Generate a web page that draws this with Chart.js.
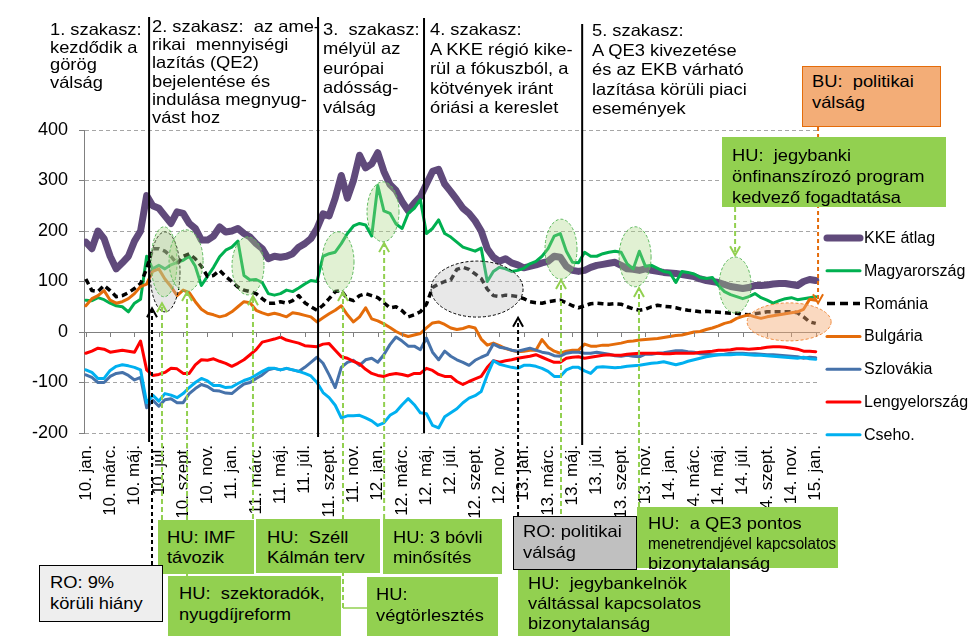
<!DOCTYPE html>
<html><head><meta charset="utf-8">
<script src="https://cdn.jsdelivr.net/npm/chart.js@4.4.0/dist/chart.umd.min.js"></script>
<style>
html,body{margin:0;padding:0;background:#fff;}
#wrap{position:relative;width:975px;height:636px;overflow:hidden;font-family:'Liberation Sans',Arial,sans-serif;color:#000;}
#c{position:absolute;left:0;top:0;}
.t{position:absolute;white-space:pre;font-size:16.5px;transform:scaleX(1.11);transform-origin:0 0;}
.box{position:absolute;box-sizing:border-box;}
.g{background:#92D050;}
.lg{position:absolute;left:864px;font-size:16px;line-height:20px;white-space:pre;}
</style></head>
<body><div id="wrap">
<canvas id="c" width="975" height="636"></canvas>

<div class="t" style="left:50px;top:21px;line-height:17.7px">1. szakasz:
kezdődik a
görög
válság</div>
<div class="t" style="left:152px;top:17px;line-height:18.2px">2. szakasz:  az ame-
rikai  mennyiségi
lazítás (QE2)
bejelentése és
indulása megnyug-
vást hoz</div>
<div class="t" style="left:323px;top:19.5px;line-height:19.5px">3.  szakasz:
mélyül az
európai
adósság-
válság</div>
<div class="t" style="left:430px;top:20px;line-height:19.5px">4. szakasz:
A KKE régió kike-
rül a fókuszból, a
kötvények iránt
óriási a kereslet</div>
<div class="t" style="left:592px;top:21px;line-height:19.5px">5. szakasz:
A QE3 kivezetése
és az EKB várható
lazítása körüli piaci
események</div>

<div class="box" style="left:802px;top:66px;width:139px;height:61px;background:#F3AD77;border:1px solid #E46C0A"></div>
<div class="t" style="left:812px;top:71px;line-height:21px">BU:  politikai
válság</div>
<div class="box g" style="left:722px;top:137px;width:224px;height:70px"></div>
<div class="t" style="left:732px;top:145px;line-height:21px">HU:  jegybanki
önfinanszírozó program
kedvező fogadtatása</div>

<div class="box g" style="left:158px;top:520px;width:96px;height:54px"></div>
<div class="t" style="left:167px;top:527px;line-height:20px">HU: IMF
távozik</div>
<div class="box g" style="left:256px;top:519px;width:124px;height:54px"></div>
<div class="t" style="left:267px;top:527px;line-height:20px">HU:  Széll
Kálmán terv</div>
<div class="box g" style="left:383px;top:519px;width:119px;height:55px"></div>
<div class="t" style="left:393px;top:527px;line-height:20px">HU: 3 bóvli
minősítés</div>
<div class="box" style="left:39px;top:565px;width:124px;height:57px;background:#EEEEEE;border:1px solid #000"></div>
<div class="t" style="left:50px;top:572px;line-height:21px">RO: 9%
körüli hiány</div>
<div class="box g" style="left:168px;top:576px;width:173px;height:60px"></div>
<div class="t" style="left:179px;top:583px;line-height:21px">HU:  szektoradók,
nyugdíjreform</div>
<div class="box g" style="left:367px;top:577px;width:131px;height:59px"></div>
<div class="t" style="left:376px;top:584px;line-height:21px">HU:
végtörlesztés</div>
<div class="box" style="left:513px;top:516px;width:124px;height:54px;background:#C0C0C0;border:1px solid #000"></div>
<div class="t" style="left:523px;top:521px;line-height:21px">RO: politikai
válság</div>
<div class="box g" style="left:518px;top:570px;width:212px;height:66px"></div>
<div class="t" style="left:528px;top:573px;line-height:20px">HU:  jegybankelnök
váltással kapcsolatos
bizonytalanság</div>
<div class="box g" style="left:637px;top:507px;width:201px;height:61px"></div>
<div class="t" style="left:648px;top:513px;line-height:20px">HU:  a QE3 pontos</div>
<div class="t" style="left:648px;top:533px;line-height:20px;transform:scaleX(0.92)">menetrendjével kapcsolatos</div>
<div class="t" style="left:648px;top:553px;line-height:20px">bizonytalanság</div>
<div id="legend"></div>
</div>
<script>
// ---- Data (half-month steps from Jan 2010 to Jan 2015) ----
const seriesNames = ['KKE átlag','Magyarország','Románia','Bulgária','Szlovákia','Lengyelország','Cseho.'];

const kke = [178,165,200,185,150,125,137,150,180,200,270,250,245,230,215,238,235,215,205,182,182,190,208,198,
 200,205,195,188,175,165,145,150,148,150,155,168,175,185,205,234,230,265,310,265,300,350,325,333,
 355,318,292,280,258,240,255,268,293,318,322,293,278,262,245,235,220,200,165,148,140,145,137,133,
 127,130,133,137,140,150,148,130,122,120,122,128,132,134,136,138,132,125,124,122,125,122,120,118,
 117,116,114,112,110,105,102,100,98,94,90,88,86,88,92,92,93,95,96,96,94,92,100,104,
 102];
const hu = [63,62,68,64,57,52,50,40,57,65,150,125,132,125,133,138,142,150,130,92,110,128,149,162,
 168,180,112,103,104,98,76,73,76,83,80,87,95,102,100,150,155,158,175,195,210,215,212,190,
 290,240,235,214,205,235,245,262,195,205,222,195,188,178,168,164,160,166,100,120,128,125,120,122,
 126,135,140,150,165,190,195,160,138,137,158,150,150,155,158,160,158,135,125,160,130,132,126,120,
 118,98,120,118,115,108,106,108,92,80,74,70,66,70,76,68,63,57,62,66,68,64,66,68,
 70];
const ro = [105,82,80,92,82,70,72,78,86,96,125,165,165,160,150,135,150,155,145,130,110,112,122,110,
 100,89,83,80,76,66,57,57,60,57,62,72,58,50,43,53,66,80,82,66,62,72,76,72,
 68,58,48,50,42,30,34,40,55,88,95,100,103,124,128,124,115,106,85,72,70,73,72,70,
 66,60,58,57,60,62,63,58,52,48,52,56,57,56,55,56,55,50,46,43,45,50,53,51,
 50,48,45,43,42,40,41,40,39,38,37,37,35,34,36,38,40,40,40,40,40,38,30,20,
 17];
const bg = [52,66,72,82,63,57,60,66,76,90,95,120,125,105,90,72,83,78,60,45,37,34,30,33,
 40,50,60,58,43,38,34,37,34,30,38,36,33,30,20,28,36,43,52,34,20,30,48,26,
 22,16,9,1,-5,-9,-6,-3,8,18,20,15,8,5,7,11,8,-14,-26,-22,-27,-33,-36,-39,
 -38,-36,-36,-15,-30,-38,-42,-38,-36,-36,-24,-28,-28,-26,-26,-24,-22,-19,-18,-16,-15,-14,-13,-11,
 -9,-7,-6,-3,0,1,5,8,12,17,20,27,31,34,30,27,30,32,34,36,38,40,45,65,
 63];
const sk = [-85,-90,-100,-100,-88,-82,-80,-86,-95,-90,-150,-135,-147,-134,-132,-140,-140,-122,-112,-104,-108,-116,-117,-121,
 -122,-112,-103,-100,-92,-85,-75,-72,-75,-72,-75,-78,-70,-60,-50,-62,-85,-110,-70,-60,-56,-66,-55,-52,
 -60,-45,-25,-10,-18,-28,-28,-35,-12,-40,-55,-38,-48,-55,-60,-66,-56,-50,-45,-24,-30,-32,-36,-38,
 -35,-32,-36,-40,-42,-47,-48,-42,-40,-40,-42,-42,-40,-42,-44,-47,-48,-46,-48,-49,-44,-44,-42,-41,
 -39,-37,-37,-39,-40,-43,-44,-45,-45,-44,-42,-42,-42,-43,-43,-44,-45,-45,-46,-47,-48,-49,-52,-50,
 -51];
const pl = [-42,-38,-32,-34,-40,-38,-36,-38,-40,-18,-75,-86,-84,-80,-72,-73,-82,-82,-65,-55,-56,-53,-58,-62,
 -68,-62,-55,-45,-35,-20,-17,-14,-10,-16,-19,-22,-27,-28,-29,-24,-23,-36,-49,-52,-58,-63,-74,-82,
 -86,-88,-84,-82,-84,-87,-82,-82,-72,-76,-84,-88,-88,-98,-104,-98,-93,-88,-70,-57,-60,-57,-55,-52,
 -50,-48,-45,-50,-55,-60,-60,-52,-50,-49,-52,-50,-48,-46,-45,-46,-46,-44,-43,-42,-42,-42,-42,-43,
 -43,-42,-42,-42,-42,-40,-39,-38,-36,-36,-35,-33,-33,-34,-33,-32,-30,-29,-29,-30,-32,-34,-38,-38,
 -39];
const cz = [-75,-80,-92,-92,-76,-68,-65,-67,-70,-75,-140,-125,-137,-122,-125,-130,-122,-110,-100,-92,-97,-106,-106,-110,
 -109,-102,-96,-92,-85,-78,-72,-72,-75,-72,-75,-78,-82,-87,-100,-120,-130,-145,-170,-166,-166,-165,-170,-176,
 -185,-180,-165,-158,-144,-132,-144,-160,-162,-185,-190,-168,-160,-152,-140,-131,-126,-118,-85,-57,-64,-67,-70,-72,
 -66,-66,-68,-72,-78,-88,-88,-75,-70,-70,-77,-82,-70,-69,-70,-71,-70,-68,-67,-66,-64,-62,-61,-59,
 -62,-65,-62,-58,-55,-52,-49,-47,-45,-45,-45,-44,-44,-45,-46,-46,-47,-48,-49,-50,-51,-52,-50,-53,
 -54];

const tickLabels = ['10. jan.','10. márc.','10. máj.','10. júl.','10. szept.','10. nov.',
 '11. jan.','11. márc.','11. máj.','11. júl.','11. szept.','11. nov.',
 '12. jan.','12. márc.','12. máj.','12. júl.','12. szept.','12. nov.',
 '13. jan.','13. márc.','13. máj.','13. júl.','13. szept.','13. nov.',
 '14. jan.','14. márc.','14. máj.','14. júl.','14. szept.','14. nov.','15. jan.'];

// ---- Styles ----
const seriesValues = [kke, hu, ro, bg, sk, pl, cz];
const colors = ['#604A7B','#00B050','#000000','#E46C0A','#4672AA','#FF0000','#00B0F0'];
const widths = [7,3,3.5,3,3,3,3];
const monthOf = i => i * 0.5;            // half-month sampling grid
const tickMonths = tickLabels.map((_, i) => i * 2);

// Annotation anchors (month, value) — layout of the event markers
const phaseStarts = [5.2, 19.09, 27.8, 40.8];
const phaseSpan = [[17,442],[17,437],[18,433],[24,445]];
const ellipses = [
  {m:6.51, v:119, rx:15, ry:40, k:'ro'},
  {m:6.43, v:139, rx:13, ry:35, k:'hu'},
  {m:8.24, v:141, rx:17, ry:31, k:'hu'},
  {m:13.33, v:131, rx:16, ry:29, k:'hu'},
  {m:20.73, v:139, rx:16, ry:30, k:'hu'},
  {m:24.43, v:238, rx:16, ry:30, k:'hu'},
  {m:32.16, v:85, rx:46, ry:28, k:'ro'},
  {m:39.06, v:164, rx:16, ry:30, k:'hu'},
  {m:45.15, v:149, rx:16, ry:30, k:'hu'},
  {m:53.37, v:93, rx:16, ry:28, k:'hu'},
  {m:57.81, v:20, rx:42, ry:19, k:'bu'}
];
const arrows = [
  {m:6.26, from:520, tip:57, k:'hu'},
  {m:8.32, from:576, tip:79, k:'hu'},
  {m:13.74, from:519, tip:71, k:'hu'},
  {m:21.14, from:608, tip:79, k:'hu', link:367},
  {m:24.52, from:519, tip:176, k:'hu'},
  {m:39.06, from:570, tip:103, k:'hu'},
  {m:45.47, from:507, tip:87, k:'hu'},
  {m:53.37, from:207, tip:152, k:'hu'},
  {m:5.44, from:565, tip:47, k:'ro'},
  {m:35.53, from:516, tip:28, k:'ro'},
  {m:60.19, from:127, tip:57, k:'bu'}
];

Chart.defaults.font.family = "'Liberation Sans', Arial, sans-serif";

const datasets = seriesValues.map((vals, i) => ({
  label: seriesNames[i],
  data: vals.map((v, j) => ({x: monthOf(j), y: v})),
  borderColor: colors[i],
  backgroundColor: colors[i],
  borderWidth: widths[i],
  borderDash: i === 2 ? [6,4] : [],
  borderCapStyle: i === 2 ? 'butt' : 'round',
  borderJoinStyle: 'round',
  pointRadius: 0,
  tension: 0,
  fill: false,
  order: seriesValues.length - i
}));

const overlay = {
  id: 'overlay',
  afterDraw(chart) {
    const {ctx, scales: {x, y}} = chart;
    const X = m => x.getPixelForValue(m);
    const Y = v => y.getPixelForValue(v);
    const y0 = Y(0);
    ctx.save();
    // tick marks on the zero line
    ctx.strokeStyle = '#808080'; ctx.lineWidth = 1; ctx.setLineDash([]);
    x.ticks.forEach(t => {
      const px = Math.round(X(t.value)) + 0.5;
      ctx.beginPath(); ctx.moveTo(px, y0); ctx.lineTo(px, y0 + 5); ctx.stroke();
    });
    // ellipses
    const eStyle = {
      hu: {fill:'rgba(170,215,130,0.35)', stroke:'#5CB85C'},
      ro: {fill:'rgba(190,190,190,0.35)', stroke:'#000000'},
      bu: {fill:'rgba(245,170,115,0.45)', stroke:'#F08A3C'}
    };
    ellipses.forEach(e => {
      const s = eStyle[e.k];
      ctx.beginPath();
      ctx.ellipse(X(e.m), Y(e.v), e.rx, e.ry, 0, 0, Math.PI * 2);
      ctx.fillStyle = s.fill; ctx.fill();
      ctx.setLineDash([3,2]); ctx.lineWidth = 1; ctx.strokeStyle = s.stroke; ctx.stroke();
    });
    // phase boundaries
    ctx.setLineDash([]); ctx.strokeStyle = '#000'; ctx.lineWidth = 2;
    phaseStarts.forEach((m, i) => {
      const px = X(m);
      ctx.beginPath(); ctx.moveTo(px, phaseSpan[i][0]); ctx.lineTo(px, phaseSpan[i][1]); ctx.stroke();
    });
    // arrows
    const aCol = {hu:'#92D050', ro:'#000000', bu:'#E46C0A'};
    arrows.forEach(a => {
      const px = X(a.m), ty = Y(a.tip);
      ctx.strokeStyle = aCol[a.k]; ctx.lineWidth = 2;
      ctx.setLineDash(a.k === 'hu' ? [5,3] : [4,3]);
      ctx.beginPath(); ctx.moveTo(px, a.from); ctx.lineTo(px, ty); ctx.stroke();
      ctx.setLineDash([]);
      const d = ty < a.from ? 1 : -1;
      ctx.beginPath(); ctx.moveTo(px - 5, ty + d * 9); ctx.lineTo(px, ty); ctx.lineTo(px + 5, ty + d * 9); ctx.stroke();
      if (a.link) {
        ctx.lineWidth = 1.5;
        ctx.beginPath(); ctx.moveTo(px, a.from); ctx.lineTo(a.link, a.from); ctx.stroke();
      }
    });
    // legend samples
    const legTop = 238, legStep = 32.8;
    seriesNames.forEach((n, i) => {
      const cy = legTop + i * legStep;
      ctx.strokeStyle = colors[i]; ctx.lineWidth = widths[i];
      ctx.lineCap = i === 2 ? 'butt' : 'round';
      ctx.setLineDash(i === 2 ? [8,5] : []);
      ctx.beginPath(); ctx.moveTo(827, cy); ctx.lineTo(860, cy); ctx.stroke();
    });
    ctx.restore();
  }
};

new Chart(document.getElementById('c'), {
  type: 'line',
  data: {datasets},
  options: {
    responsive: false,
    animation: false,
    events: [],
    layout: {padding: {top: 130, right: 155, bottom: 0, left: 0}},
    plugins: {legend: {display: false}, tooltip: {enabled: false}},
    scales: {
      x: {
        type: 'linear', min: -0.15, max: 60.35,
        afterBuildTicks: s => { s.ticks = tickMonths.map(v => ({value: v})); },
        afterFit: s => { s.height = 203; },
        ticks: {
          autoSkip: false, maxRotation: 90, minRotation: 90, padding: 12,
          color: '#000', font: {size: 17},
          callback: v => tickLabels[Math.round(v / 2)]
        },
        grid: {display: false, drawTicks: false},
        border: {display: false}
      },
      y: {
        min: -200, max: 400,
        afterFit: s => { s.width = 84; },
        ticks: {stepSize: 100, color: '#000', font: {size: 18}, padding: 11},
        grid: {
          color: c => (c.tick && c.tick.value === 0) ? '#808080' : '#A6A6A6',
          lineWidth: 1, drawTicks: true, tickLength: 5, tickColor: '#808080'
        },
        border: {display: true, color: '#808080', width: 1,
          dash: c => (c.tick && c.tick.value === 0) ? [] : [4,3]}
      }
    }
  },
  plugins: [overlay]
});

// HTML legend text
const lg = document.getElementById('legend');
seriesNames.forEach((n, i) => {
  const d = document.createElement('div');
  d.className = 'lg';
  d.style.top = (238 + i * 32.8 - 10) + 'px';
  d.textContent = n;
  lg.appendChild(d);
});
</script>
</body></html>
